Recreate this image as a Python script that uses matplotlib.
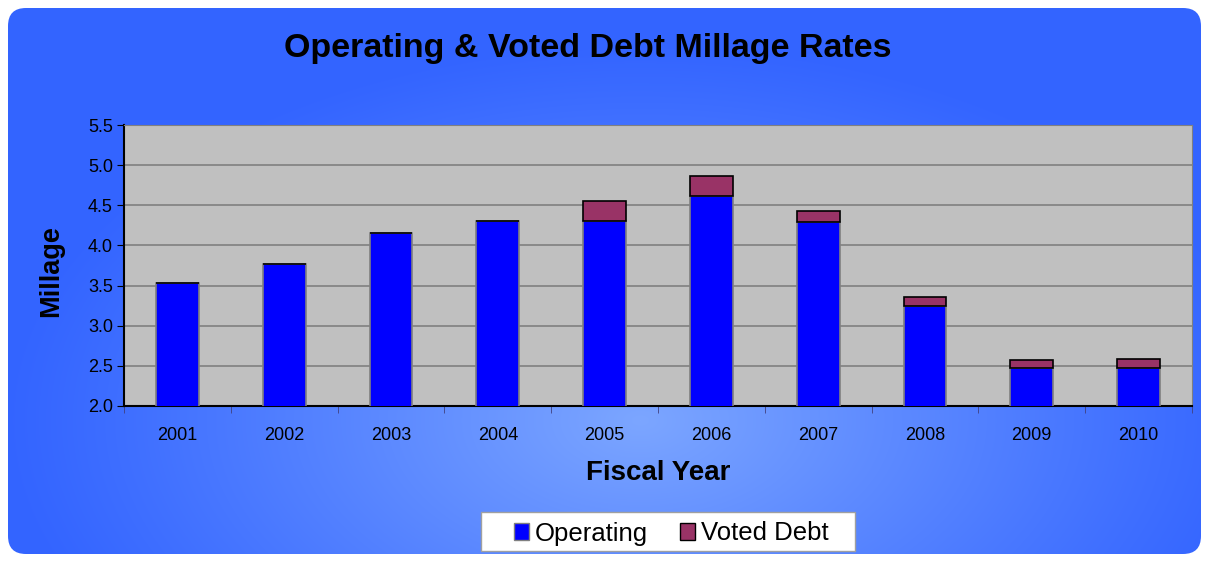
import numpy as np
import matplotlib.pyplot as plt
from matplotlib.patches import FancyBboxPatch, Patch, Rectangle

years = ["2001", "2002", "2003", "2004", "2005", "2006", "2007", "2008", "2009", "2010"]
operating = [3.53, 3.77, 4.16, 4.30, 4.30, 4.61, 4.29, 3.25, 2.47, 2.47]
voted_debt = [0.00, 0.00, 0.00, 0.00, 0.25, 0.25, 0.14, 0.11, 0.10, 0.11]
y_ticks = [2.0, 2.5, 3.0, 3.5, 4.0, 4.5, 5.0, 5.5]

W, H = 1209, 561
fig = plt.figure(figsize=(W / 100, H / 100), dpi=100)
fig.patch.set_facecolor("white")

# blue panel with a soft radial highlight, clipped to a rounded box
bg = fig.add_axes([0, 0, 1, 1], zorder=0)
bg.set_xlim(0, W)
bg.set_ylim(H, 0)
bg.axis("off")
gx, gy = np.meshgrid(np.arange(W), np.arange(H))
r = np.sqrt(((gx - 640) / 640) ** 2 + ((gy - 420) / 380) ** 2)
t = np.clip(1 - r, 0, 1) ** 1.1
edge = np.array([0x33, 0x64, 0xff]) / 255
center = np.array([0x7c, 0xa6, 0xff]) / 255
img = edge[None, None, :] + (center - edge)[None, None, :] * t[..., None]
im = bg.imshow(img, extent=(0, W, H, 0), aspect="auto")
box = FancyBboxPatch((8, 8), W - 16, H - 15, boxstyle="round,pad=0,rounding_size=18",
                     transform=bg.transData, facecolor="none", edgecolor="none")
bg.add_patch(box)
im.set_clip_path(box)

# white legend panel
bg.add_patch(Rectangle((481, 512), 374, 39, facecolor="white", edgecolor="#a0a0a0",
                       linewidth=1, zorder=3))

ax = fig.add_axes([124 / W, 1 - 406 / H, (1192 - 124) / W, (406 - 125) / H], zorder=1)
ax.set_facecolor("#c0c0c0")
x = np.arange(len(years))
ax.bar(x, operating, width=0.40, bottom=0, color="#0000ff", edgecolor="#808080",
       linewidth=1.2, zorder=3)
ax.bar(x, voted_debt, width=0.40, bottom=operating, color="#993366", edgecolor="black",
       linewidth=1.2, zorder=3)

ax.set_ylim(2.0, 5.5)
ax.set_xlim(-0.5, len(years) - 0.5)
ax.set_yticks(y_ticks)
ax.set_yticklabels([f"{v:.1f}" for v in y_ticks], fontsize=13, family="Liberation Sans")
ax.set_xticks(x)
ax.set_xticklabels(years, fontsize=13, family="Liberation Sans")
ax.set_xticks(np.arange(-0.5, len(years)), minor=True)
ax.tick_params(axis="x", which="major", length=0, pad=15)
ax.tick_params(axis="x", which="minor", length=5, color="#404080", direction="out")
ax.tick_params(axis="y", length=5, direction="out", pad=3)
ax.yaxis.grid(True, color="#808080", linewidth=1.2, zorder=1)
ax.set_axisbelow(True)
for s in ["top", "right"]:
    ax.spines[s].set_color("#808080")
for s in ["left", "bottom"]:
    ax.spines[s].set_color("black")
    ax.spines[s].set_linewidth(1.5)

ax.set_xlabel("Fiscal Year", fontsize=20, fontweight="bold", family="Liberation Sans", labelpad=11.5)
ax.set_ylabel("Millage", fontsize=19.5, fontweight="bold", family="Liberation Sans", labelpad=17)
ax.yaxis.label.set_y(0.479)

fig.text(588 / W, 1 - 48 / H, "Operating & Voted Debt Millage Rates", ha="center", va="center",
         fontsize=24.5, fontweight="bold", family="Liberation Sans")

handles = [Patch(facecolor="#0000ff", edgecolor="#808080"),
           Patch(facecolor="#993366", edgecolor="black")]
leg = fig.legend(handles, ["Operating", "Voted Debt"], loc="center", ncol=2,
                 bbox_to_anchor=(671 / W, 1 - 533.5 / H), frameon=False,
                 prop={"family": "Liberation Sans", "size": 18.5}, handlelength=0.6,
                 handleheight=0.6, handletextpad=0.2, columnspacing=1.27,
                 borderpad=0.3, borderaxespad=0)

fig.savefig("out.png", dpi=100)
